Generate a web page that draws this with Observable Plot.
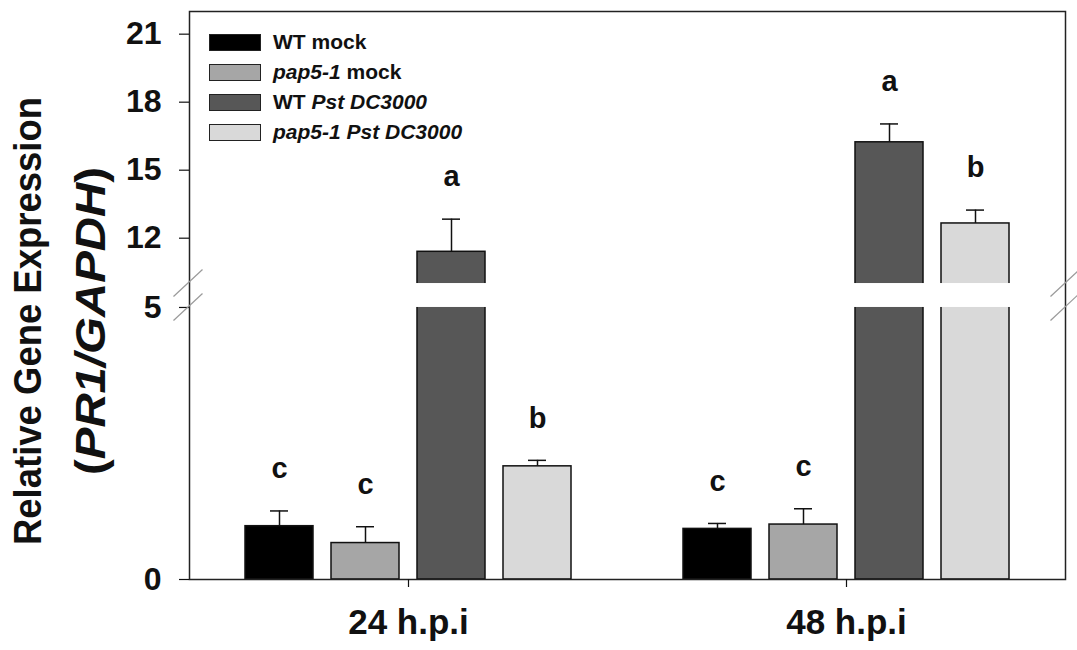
<!DOCTYPE html>
<html>
<head>
<meta charset="utf-8">
<script src="https://cdn.jsdelivr.net/npm/d3@7"></script>
<script src="https://cdn.jsdelivr.net/npm/@observablehq/plot@0.6"></script>
<style>
  body { margin: 0; background: #fff; }
  #chart { position: relative; width: 1077px; height: 650px; font-family: "Liberation Sans", Arial, sans-serif; }
  #legend { position: absolute; left: 209px; top: 27px; }
  #legend .row { display: flex; align-items: center; height: 30px; }
  #legend .sw { width: 52px; height: 17px; box-sizing: border-box; border: 1.5px solid #222; }
  #legend .lab { margin-left: 12px; font-size: 21px; font-weight: bold; color: #111; white-space: nowrap; }
</style>
</head>
<body>
<div id="chart"><div id="legend"></div></div>
<script>
// Time points (groups) and treatments (bars within each group)
const timepoints = ["24 h.p.i", "48 h.p.i"];
const genotypes = ["WT mock", "pap5-1 mock", "WT Pst DC3000", "pap5-1 Pst DC3000"];

// Relative PR1/GAPDH expression, mean and SE, per time point
const expr24 = [0.98, 0.67, 11.4, 2.08];
const err24 = [0.28, 0.30, 1.44, 0.11];
const expr48 = [0.93, 1.01, 16.23, 12.65];
const err48 = [0.10, 0.29, 0.81, 0.59];

// Significance groups
const letters24 = ["c", "c", "a", "b"];
const letters48 = ["c", "c", "a", "b"];

// Bar fills per treatment
const fills = ["#000000", "#a6a6a6", "#575757", "#d9d9d9"];

// Legend entries: [text, italic] pieces in reading order
const legendParts = [
  [["WT mock", false]],
  [["pap5-1", true], [" mock", false]],
  [["WT ", false], ["Pst DC3000", true]],
  [["pap5-1 Pst DC3000", true]]
];

// Broken y axis: lower segment 0–5, upper segment 10–22
const yBreak = [5, 10];
const yMax = 22;
const yTicks = [0, 5, 12, 15, 18, 21];

// Axis break: both segments get the same height; a small gap separates them
const gap = 0.44;
const upperScale = (yBreak[0] - 0) / (yMax - yBreak[1]);
function brk(v) {
  if (v <= yBreak[0]) return v;
  if (v >= yBreak[1]) return yBreak[0] + gap + (v - yBreak[1]) * upperScale;
  return yBreak[0] + gap * (v - yBreak[0]) / (yBreak[1] - yBreak[0]);
}

const means = [expr24, expr48];
const errs = [err24, err48];
const letters = [letters24, letters48];
const rows = [];
timepoints.forEach((t, i) => genotypes.forEach((g, j) => rows.push({
  time: t, genotype: g, value: means[i][j], err: errs[i][j], letter: letters[i][j]
})));

const font = "'Liberation Sans', Arial, sans-serif";
const errTop = d => d.value + d.err;

const chart = Plot.plot({
  width: 1077,
  height: 650,
  marginLeft: 188,
  marginRight: 12,
  marginTop: 11,
  marginBottom: 71,
  style: {fontFamily: font, background: "white", color: "#111", overflow: "visible"},
  fx: {domain: timepoints, padding: 0},
  x: {domain: genotypes, paddingInner: 0.21, paddingOuter: 0.635, axis: null},
  y: {type: "linear", transform: brk, domain: [0, brk(yMax)]},
  color: {domain: genotypes, range: fills},
  marks: [
    Plot.barY(rows, {fx: "time", x: "genotype", y1: 0, y2: "value", fill: "genotype", stroke: "#111", strokeWidth: 1.5}),
    // white gap where bars cross the axis break
    Plot.barY(rows.filter(d => d.value > yBreak[1]), {fx: "time", x: "genotype", y1: yBreak[0], y2: yBreak[1], fill: "white", insetLeft: -2, insetRight: -2}),
    Plot.ruleX(rows, {fx: "time", x: "genotype", y1: "value", y2: errTop, stroke: "#111", strokeWidth: 1.5}),
    Plot.tickY(rows, {fx: "time", x: "genotype", y: errTop, stroke: "#111", strokeWidth: 1.5, insetLeft: 25, insetRight: 25}),
    Plot.text(rows, {fx: "time", x: "genotype", y: errTop, text: "letter", dy: -42, fontSize: 29, fontWeight: "bold", fill: "#111"}),
    Plot.frame({stroke: "#222", strokeWidth: 1.5, facet: "super"}),
    Plot.axisY(yTicks, {y: d => d, tickSize: 10, tickPadding: 18, fontSize: 32, fontWeight: "bold", label: null, tickFormat: d => d, strokeWidth: 1.2}),
    Plot.axisFx({anchor: "bottom", tickSize: 8, tickPadding: 22, fontSize: 35, fontWeight: "bold", label: null, strokeWidth: 1.2})
  ]
});

document.getElementById("chart").prepend(chart);

// Break markers: double slashes across the left axis and right frame edge
const svg = d3.select(chart);
const ys = chart.scale("y");
const fxr = chart.scale("fx").range;
const edges = [Math.min(...fxr), Math.max(...fxr)];
for (const ex of edges) {
  for (const v of yBreak) {
    const yy = ys.apply(brk(v));
    svg.append("line")
      .attr("x1", ex - 14.5).attr("y1", yy + 13.5)
      .attr("x2", ex + 14.5).attr("y2", yy - 13.5)
      .attr("stroke", "#9a9a9a").attr("stroke-width", 1.2);
  }
}

// Y axis title, two rotated lines
const ymid = 321;
svg.append("text")
  .attr("transform", `translate(41,${ymid}) rotate(-90)`)
  .attr("text-anchor", "middle").attr("font-size", 39).attr("font-weight", "bold").attr("fill", "#111")
  .attr("textLength", 448).attr("lengthAdjust", "spacingAndGlyphs")
  .text("Relative Gene Expression");
const t2 = svg.append("text")
  .attr("transform", `translate(105,${ymid}) rotate(-90)`)
  .attr("text-anchor", "middle").attr("font-size", 43).attr("font-weight", "bold").attr("fill", "#111")
  .attr("textLength", 308).attr("lengthAdjust", "spacingAndGlyphs");
t2.append("tspan").text("(");
t2.append("tspan").attr("font-style", "italic").text("PR1/GAPDH");
t2.append("tspan").text(")");

// Legend inside the plot frame
const legend = d3.select("#legend");
genotypes.forEach((g, i) => {
  const row = legend.append("div").attr("class", "row");
  row.append("div").attr("class", "sw").style("background", fills[i]);
  const lab = row.append("div").attr("class", "lab");
  for (const [txt, it] of legendParts[i]) {
    lab.append("span").style("font-style", it ? "italic" : "normal").style("white-space", "pre").text(txt);
  }
});
</script>
</body>
</html>
